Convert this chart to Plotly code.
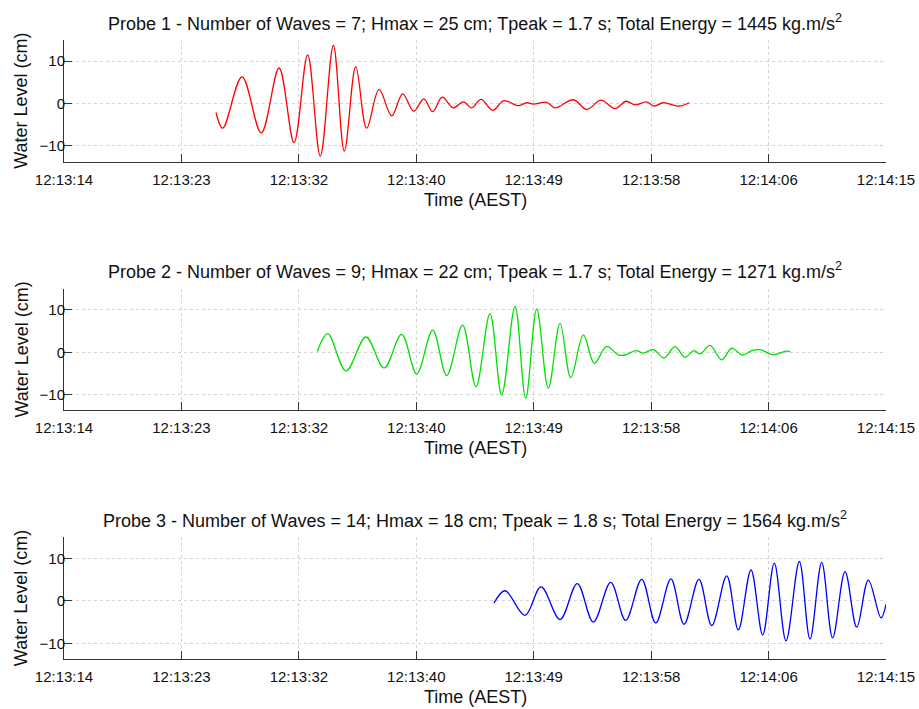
"""
Wave probe water level records, three stacked panels
"""
import plotly.graph_objects as go
from plotly.subplots import make_subplots

# time in seconds after 12:13:14 (AEST), values in cm (turning points)
p1_t = [11.28, 11.78, 13.21, 14.64, 15.96, 17.07, 18.08, 19.02, 19.99, 20.80, 21.65,
        22.46, 23.38, 24.32, 25.13, 25.95, 26.70, 27.36, 28.07, 28.89, 29.63, 30.25,
        30.95, 31.81, 32.65, 33.71, 34.33, 34.83, 35.82, 36.44, 37.80, 38.79, 39.85,
        40.89, 41.71, 42.38, 43.24, 43.78, 44.47, 45.59, 46.40]
p1_v = [-2.1, -5.8, 6.3, -6.9, 8.4, -9.2, 11.5, -12.4, 13.7, -11.2, 8.7,
        -5.8, 3.35, -2.9, 2.3, -1.8, 1.1, -1.9, 1.5, -1.0, 0.4, -1.0,
        1.0, -1.6, 0.7, -0.5, 0.2, -0.15, 0.3, -1.0, 0.9, -1.4, 0.8,
        -1.2, 0.55, -0.3, 0.4, -0.6, 0.2, -0.6, 0.2]

p2_t = [18.80, 19.57, 20.93, 22.41, 23.75, 25.06, 26.17, 27.36, 28.40, 29.58, 30.57,
        31.61, 32.48, 33.47, 34.26, 35.08, 35.94, 36.81, 37.61, 38.54, 39.36, 40.27,
        41.14, 41.63, 42.45, 42.99, 43.73, 44.53, 45.34, 46.08, 46.75, 47.20, 47.94,
        48.81, 49.55, 50.34, 51.04, 51.65, 52.64, 53.58, 53.88]
p2_v = [0.2, 4.4, -4.4, 3.6, -3.7, 4.2, -5.1, 5.2, -5.5, 6.4, -8.1,
        9.1, -10.1, 10.8, -10.9, 10.2, -8.5, 6.8, -6.0, 4.1, -2.6, 1.4,
        -0.65, -0.65, 0.4, -0.2, 0.6, -1.35, 1.35, -1.2, 0.4, -0.4, 1.6,
        -1.8, 0.95, -0.65, 0.4, 0.6, -0.6, 0.25, 0.15]

p3_t = [31.91, 32.73, 34.21, 35.40, 36.81, 38.09, 39.28, 40.57, 41.68, 42.87, 43.91,
        45.04, 46.01, 47.12, 48.07, 49.18, 50.04, 50.98, 51.85, 52.71, 53.58, 54.57,
        55.36, 56.23, 57.04, 57.96, 58.83, 59.69, 60.63, 61.0]
p3_v = [-0.5, 2.4, -3.4, 3.3, -4.4, 4.1, -5.0, 4.4, -4.6, 5.1, -5.2,
        5.2, -5.5, 5.1, -5.8, 5.9, -6.8, 7.3, -8.0, 8.9, -9.4, 9.3,
        -9.0, 9.1, -8.7, 6.9, -6.2, 4.9, -4.0, -0.8]

tick_secs = [0, 8.714, 17.429, 26.143, 34.857, 43.571, 52.286, 61.0]
tick_labels = ["12:13:14", "12:13:23", "12:13:32", "12:13:40",
               "12:13:49", "12:13:58", "12:14:06", "12:14:15"]

titles = [
    "Probe 1 - Number of Waves = 7; Hmax = 25 cm; Tpeak = 1.7 s; Total Energy = 1445 kg.m/s<sup>2</sup>",
    "Probe 2 - Number of Waves = 9; Hmax = 22 cm; Tpeak = 1.7 s; Total Energy = 1271 kg.m/s<sup>2</sup>",
    "Probe 3 - Number of Waves = 14; Hmax = 18 cm; Tpeak = 1.8 s; Total Energy = 1564 kg.m/s<sup>2</sup>",
]
colors = ["#ff0000", "#00e000", "#0000ff"]

FONT = "Liberation Sans, Arial, sans-serif"

fig = make_subplots(rows=3, cols=1, vertical_spacing=0.2052)

series = [(p1_t, p1_v), (p2_t, p2_v), (p3_t, p3_v)]
for i, (t, v) in enumerate(series):
    fig.add_trace(go.Scatter(
        x=t, y=v, mode="lines",
        line=dict(color=colors[i], width=1.3, shape="spline", smoothing=1.0),
        showlegend=False,
    ), row=i + 1, col=1)

fig.update_xaxes(
    range=[0, 61], tickvals=tick_secs, ticktext=tick_labels,
    ticks="inside", ticklen=8, tickcolor="#333333",
    showline=True, linecolor="#333333", linewidth=1,
    showgrid=True, gridcolor="#d4d4d4", griddash="dot", gridwidth=1,
    zeroline=False, automargin=False, ticklabelstandoff=4,
    tickfont=dict(family=FONT, size=15, color="#111111"),
)
fig.update_yaxes(
    range=[-13.7, 15], tickvals=[-10, 0, 10],
    ticks="inside", ticklen=8, tickcolor="#333333",
    showline=True, linecolor="#333333", linewidth=1,
    showgrid=True, gridcolor="#d4d4d4", griddash="dot", gridwidth=1,
    zeroline=False, automargin=False, ticklabelstandoff=-5,
    tickfont=dict(family=FONT, size=15, color="#111111"),
)

annotations = []
for i in range(3):
    yax = fig.layout["yaxis" + ("" if i == 0 else str(i + 1))]
    top, bottom = yax.domain[1], yax.domain[0]
    annotations.append(dict(
        text=titles[i], x=0.5, xref="paper", y=top, yref="paper",
        xanchor="center", yanchor="middle", yshift=18, showarrow=False,
        font=dict(family=FONT, size=18, color="#111111"),
    ))
    annotations.append(dict(
        text="Time (AEST)", x=0.5, xref="paper", y=bottom, yref="paper",
        xanchor="center", yanchor="middle", yshift=-38, showarrow=False,
        font=dict(family=FONT, size=18, color="#111111"),
    ))
    annotations.append(dict(
        text="Water Level (cm)", x=0, xref="paper", y=(top + bottom) / 2, yref="paper",
        xanchor="center", yanchor="middle", xshift=-43, textangle=-90, showarrow=False,
        font=dict(family=FONT, size=18, color="#111111"),
    ))

fig.update_layout(
    width=919, height=709,
    margin=dict(l=64, r=33, t=40, b=50),
    plot_bgcolor="white", paper_bgcolor="white",
    annotations=annotations,
    font=dict(family=FONT),
)

fig.write_html("out.html", config={"displayModeBar": False},
               post_script="document.body.style.margin='0px';")
